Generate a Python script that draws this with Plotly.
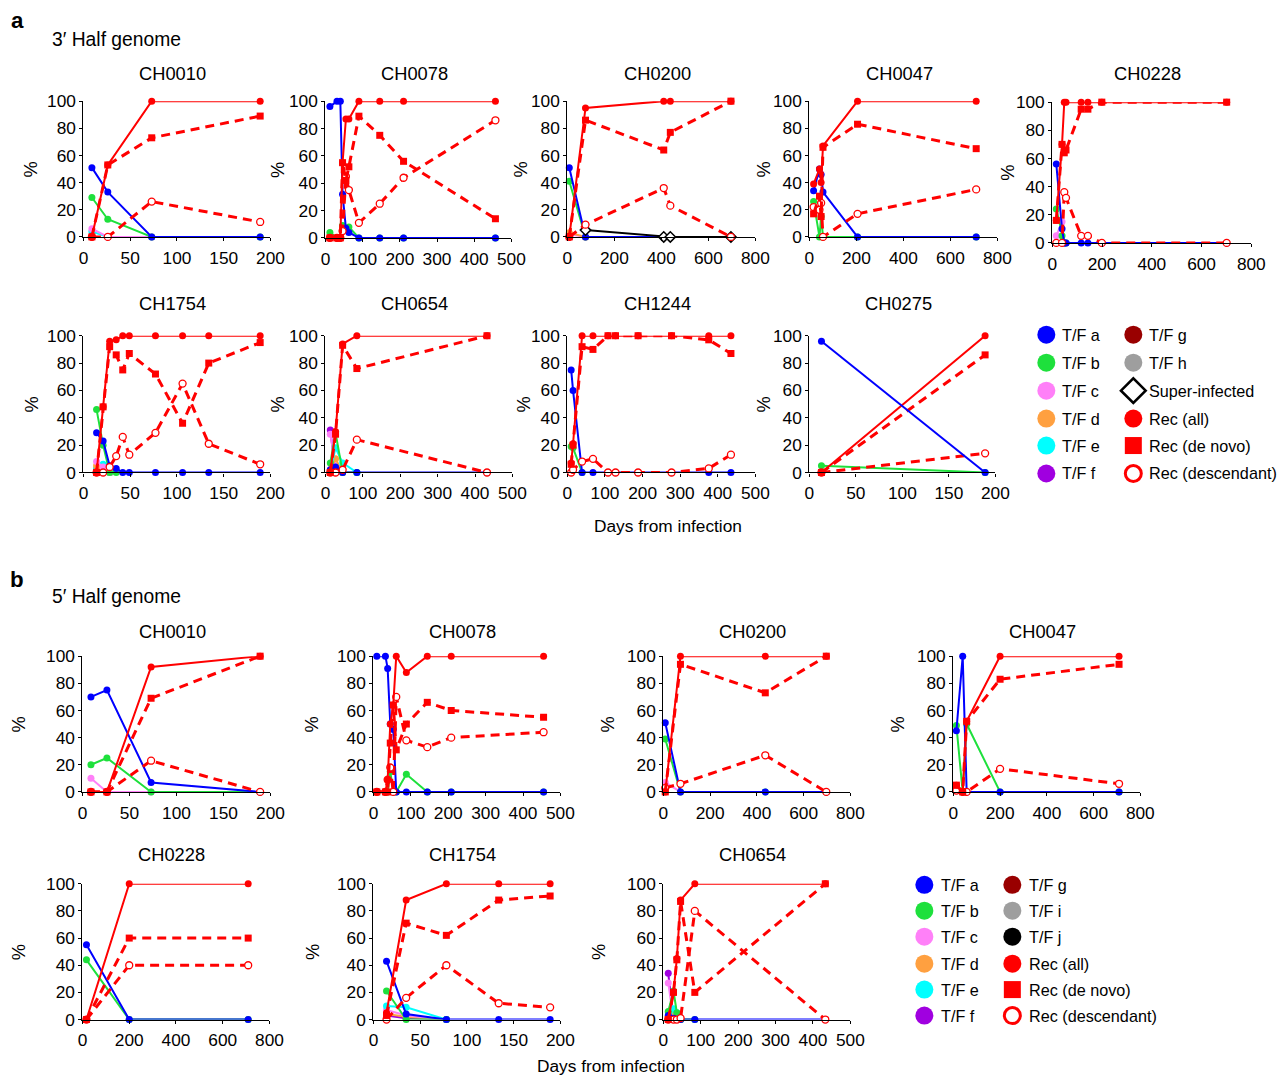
import plotly.graph_objects as go

W, H = 1296, 1086
FONT = "Liberation Sans, Arial, Helvetica, sans-serif"

# page placement of the figure: screen = A * figure + B
AX, BX = 0.9855, 4.5
AY, BY = 0.9833, 7.7
S = 1 / AX

COLORS = {
    "T/F a": "#0000FF", "T/F b": "#1EE03C", "T/F c": "#FF80F8", "T/F d": "#FFA040",
    "T/F e": "#00FFFF", "T/F f": "#A000E0", "T/F g": "#990000", "T/F h": "#9E9E9E",
    "T/F i": "#9E9E9E", "T/F j": "#000000", "Super-infected": "#000000", "Rec": "#FF0000",
}

# ---------------- 3' half genome ----------------
A_CH0010_DAYS = [9, 26, 73, 189]
A_CH0010 = {
    "T/F e": [4, 0, None, None],
    "T/F c": [6, 0, 0, None],
    "T/F b": [29, 13, 0, 0],
    "T/F a": [51, 33, 0, 0],
    "Rec (descendant)": [0, 0, 26, 11],
    "Rec (de novo)": [0, 53, 73, 89],
    "Rec (all)": [0, 53, 100, 100],
}

A_CH0078_DAYS = [12, 31, 40, 46, 55, 63, 90, 146, 210, 457]
A_CH0078 = {
    "T/F b": [4, 0, 0, 9, 6, 8, 0, 0, 0, 0],
    "T/F a": [96, 100, 100, 32, 7, 4, 0, 0, 0, 0],
    "Rec (descendant)": [0, 0, 0, 5, 45, 35, 11, 25, 44, 86],
    "Rec (de novo)": [0, 0, 0, 55, 42, 52, 89, 75, 56, 14],
    "Rec (all)": [0, 0, 0, 55, 87, 87, 100, 100, 100, 100],
}

A_CH0200_DAYS = [8, 77, 410, 438, 696]
A_CH0200 = {
    "T/F c": [2, 0, None, None, None],
    "T/F d": [3, 0, None, None, None],
    "T/F b": [41, 0, 0, 0, 0],
    "T/F a": [51, 0, 0, 0, 0],
    "Super-infected": [None, 5, 0, 0, 0],
    "Rec (descendant)": [0, 9, 36, 23, 0],
    "Rec (de novo)": [0, 86, 64, 77, 100],
    "Rec (all)": [0, 95, 100, 100, 100],
}

A_CH0047_DAYS = [18, 43, 50, 58, 205, 710]
A_CH0047 = {
    "T/F b": [26, 0, 15, 0, 0, 0],
    "T/F a": [34, 50, 46, 33, 0, 0],
    "Rec (descendant)": [22, 20, 25, 0, 17, 35],
    "Rec (de novo)": [17, 30, 15, 66, 83, 65],
    "Rec (all)": [39, 50, 40, 67, 100, 100],
}

A_CH0228_DAYS = [16, 39, 48, 55, 116, 143, 199, 701]
A_CH0228 = {
    "T/F c": [5, 15, 0, 0, None, None, None, None],
    "T/F b": [24, 5, 0, 0, None, None, None, None],
    "T/F a": [56, 10, 0, 0, 0, 0, 0, 0],
    "Rec (descendant)": [0, 0, 36, 32, 5, 5, 0, 0],
    "Rec (de novo)": [16, 70, 64, 66, 95, 95, 100, 100],
    "Rec (all)": [16, 70, 100, 100, 100, 100, 100, 100],
}

A_CH1754_DAYS = [14, 21, 28, 35, 42, 49, 77, 106, 134, 189]
A_CH1754 = {
    "T/F f": [2, 0, 0, None, None, None, None, None, None, None],
    "T/F e": [3, 6, 0, None, None, None, None, None, None, None],
    "T/F d": [5, 1, 0, None, None, None, None, None, None, None],
    "T/F c": [8, 4, 0, None, None, None, None, None, None, None],
    "T/F b": [46, 20, 0, 0, None, None, None, None, None, None],
    "T/F a": [29, 23, 5, 3, 0, 0, 0, 0, 0, 0],
    "Rec (descendant)": [0, 0, 4, 12, 26, 13, 29, 65, 21, 6],
    "Rec (de novo)": [0, 48, 92, 86, 75, 87, 72, 36, 80, 95],
    "Rec (all)": [0, 48, 96, 97, 100, 100, 100, 100, 100, 100],
}

A_CH0654_DAYS = [13, 27, 46, 84, 432]
A_CH0654 = {
    "T/F f": [31, 0, None, None, None],
    "T/F c": [28, 5, 0, None, None],
    "T/F d": [2, 10, 0, None, None],
    "T/F e": [1, 18, 7, 0, None],
    "T/F b": [7, 29, 0, 0, None],
    "T/F a": [2, 4, 0, 0, 0],
    "Rec (descendant)": [0, 0, 2, 24, 0],
    "Rec (de novo)": [0, 28, 93, 76, 100],
    "Rec (all)": [0, 30, 94, 100, 100],
}

A_CH1244_DAYS = [10, 15, 39, 68, 108, 128, 188, 277, 376, 435]
A_CH1244 = {
    "T/F b": [19, 18, 0, None, None, None, None, None, None, None],
    "T/F a": [75, 60, 0, 0, 0, 0, 0, 0, 0, 0],
    "Rec (descendant)": [0, 2, 8, 10, 0, 0, 0, 0, 3, 13],
    "Rec (de novo)": [6, 20, 92, 90, 100, 100, 100, 100, 97, 87],
    "Rec (all)": [7, 21, 100, 100, 100, 100, 100, 100, 100, 100],
}

A_CH0275_DAYS = [13, 189]
A_CH0275 = {
    "T/F b": [5, 0],
    "Rec (descendant)": [0, 14],
    "Rec (de novo)": [0, 86],
    "Rec (all)": [0, 100],
    "T/F a": [96, 0],
}

# ---------------- 5' half genome ----------------
B_CH0010_DAYS = [9, 26, 73, 189]
B_CH0010 = {
    "T/F c": [10, 0, 0, None],
    "T/F b": [20, 25, 0, 0],
    "T/F a": [70, 75, 7, 0],
    "Rec (descendant)": [0, 0, 23, 0],
    "Rec (de novo)": [0, 0, 69, 100],
    "Rec (all)": [0, 0, 92, 100],
}

B_CH0078_DAYS = [9, 32, 38, 45, 53, 61, 88, 144, 208, 455]
B_CH0078 = {
    "T/F b": [0, 0, 0, 15, 0, 0, 13, 0, 0, 0],
    "T/F a": [100, 100, 91, 50, 46, 0, 0, 0, 0, 0],
    "Rec (descendant)": [0, 0, 9, 18, 0, 70, 38, 33, 40, 44],
    "Rec (de novo)": [0, 0, 0, 36, 64, 31, 50, 66, 60, 55],
    "Rec (all)": [0, 0, 9, 50, 64, 100, 88, 100, 100, 100],
}

B_CH0200_DAYS = [8, 73, 436, 697]
B_CH0200 = {
    "T/F c": [7, 0, None, None],
    "T/F b": [39, 0, 0, 0],
    "T/F a": [51, 0, 0, 0],
    "Rec (descendant)": [3, 6, 27, 0],
    "Rec (de novo)": [0, 94, 73, 100],
    "Rec (all)": [0, 100, 100, 100],
}

B_CH0047_DAYS = [13, 40, 57, 200, 709]
B_CH0047 = {
    "T/F d": [2, 0, None, None, None],
    "T/F b": [49, 0, 50, 0, 0],
    "T/F a": [45, 100, 0, 0, 0],
    "Rec (descendant)": [1, 0, 0, 17, 6],
    "Rec (de novo)": [5, 0, 52, 83, 94],
    "Rec (all)": [5, 0, 52, 100, 100],
}

B_CH0228_DAYS = [17, 200, 709]
B_CH0228 = {
    "T/F b": [44, 0, 0],
    "T/F a": [55, 0, 0],
    "Rec (descendant)": [0, 40, 40],
    "Rec (de novo)": [0, 60, 60],
    "Rec (all)": [0, 100, 100],
}

B_CH1754_DAYS = [14, 35, 78, 134, 189]
B_CH1754 = {
    "T/F f": [3, 1, 0, None, None],
    "T/F d": [4, 2, 0, None, None],
    "T/F c": [7, 3, 0, None, None],
    "T/F e": [10, 9, 0, None, None],
    "T/F b": [21, 0, 0, None, None],
    "T/F a": [43, 4, 0, 0, 0],
    "Rec (descendant)": [0, 16, 40, 12, 9],
    "Rec (de novo)": [3, 71, 62, 88, 91],
    "Rec (all)": [5, 88, 100, 100, 100],
}

B_CH0654_DAYS = [13, 27, 36, 46, 84, 433]
B_CH0654 = {
    "T/F f": [34, 0, None, None, None, None],
    "T/F c": [27, 0, None, None, None, None],
    "T/F d": [2, 5, 0, None, None, None],
    "T/F e": [0, 8, 5, 0, None, None],
    "T/F b": [6, 21, 5, 0, 0, None],
    "T/F a": [3, 1, 0, 0, 0, 0],
    "Rec (descendant)": [0, 0, 0, 1, 80, 0],
    "Rec (de novo)": [0, 20, 44, 87, 20, 100],
    "Rec (all)": [0, 20, 45, 88, 100, 100],
}

LEGEND_A = [["T/F a", "T/F b", "T/F c", "T/F d", "T/F e", "T/F f"],
            ["T/F g", "T/F h", "Super-infected", "Rec (all)", "Rec (de novo)", "Rec (descendant)"]]
LEGEND_B = [["T/F a", "T/F b", "T/F c", "T/F d", "T/F e", "T/F f"],
            ["T/F g", "T/F i", "T/F j", "Rec (all)", "Rec (de novo)", "Rec (descendant)"]]

# panel layout in screen pixels: title, days, series, left, right, top(100%), bottom(0%), x max, tick step, % label x, title y
PANELS = [
    ("CH0010", A_CH0010_DAYS, A_CH0010, 83, 270, 99, 235, 200, 50, 30, 71),
    ("CH0078", A_CH0078_DAYS, A_CH0078, 325, 511, 99, 236, 500, 100, 277, 71),
    ("CH0200", A_CH0200_DAYS, A_CH0200, 567, 755, 99, 235, 800, 200, 520, 71),
    ("CH0047", A_CH0047_DAYS, A_CH0047, 809, 997, 99, 235, 800, 200, 763, 71),
    ("CH0228", A_CH0228_DAYS, A_CH0228, 1052, 1251, 100, 241, 800, 200, 1007, 71),
    ("CH1754", A_CH1754_DAYS, A_CH1754, 83, 270, 334, 471, 200, 50, 31, 302),
    ("CH0654", A_CH0654_DAYS, A_CH0654, 325, 512, 334, 471, 500, 100, 277, 302),
    ("CH1244", A_CH1244_DAYS, A_CH1244, 567, 755, 334, 471, 500, 100, 523, 302),
    ("CH0275", A_CH0275_DAYS, A_CH0275, 809, 995, 334, 471, 200, 50, 763, 302),
    ("CH0010", B_CH0010_DAYS, B_CH0010, 82, 270, 655, 791, 200, 50, 18, 630),
    ("CH0078", B_CH0078_DAYS, B_CH0078, 373, 560, 655, 791, 500, 100, 311, 630),
    ("CH0200", B_CH0200_DAYS, B_CH0200, 663, 850, 655, 791, 800, 200, 607, 630),
    ("CH0047", B_CH0047_DAYS, B_CH0047, 953, 1140, 655, 791, 800, 200, 897, 630),
    ("CH0228", B_CH0228_DAYS, B_CH0228, 82, 269, 883, 1019, 800, 200, 18, 854),
    ("CH1754", B_CH1754_DAYS, B_CH1754, 373, 560, 883, 1019, 200, 50, 312, 854),
    ("CH0654", B_CH0654_DAYS, B_CH0654, 663, 850, 883, 1019, 500, 100, 598, 854),
]


def fx(x):
    return (x - BX) / AX


def fy(y):
    return (y - BY) / AY


def px(x):
    return fx(x) / W


def py(y):
    return 1 - fy(y) / H


def fs(size):
    return round(size * S, 1)


def series_style(name):
    if name == "Rec (all)":
        return dict(line=dict(color=COLORS["Rec"], width=2),
                    marker=dict(symbol="circle", size=7, color=COLORS["Rec"]))
    if name == "Rec (de novo)":
        return dict(line=dict(color=COLORS["Rec"], width=3, dash="9px,6px"),
                    marker=dict(symbol="square", size=7, color=COLORS["Rec"]))
    if name == "Rec (descendant)":
        return dict(line=dict(color=COLORS["Rec"], width=3, dash="9px,6px"),
                    marker=dict(symbol="circle", size=7, color="white",
                                line=dict(color=COLORS["Rec"], width=1.3)))
    if name == "Super-infected":
        return dict(line=dict(color="black", width=2),
                    marker=dict(symbol="diamond", size=8, color="white",
                                line=dict(color="black", width=1.5)))
    c = COLORS[name]
    return dict(line=dict(color=c, width=2), marker=dict(symbol="circle", size=7, color=c))


fig = go.Figure()
layout = dict(
    width=W, height=H, margin=dict(l=0, r=0, t=0, b=0),
    paper_bgcolor="white", plot_bgcolor="rgba(0,0,0,0)",
    showlegend=False, font=dict(family=FONT, size=fs(17), color="black"),
)
annotations = []


def ann(text, x, y, size, **kw):
    d = dict(text=text, x=px(x), y=py(y), xref="paper", yref="paper", showarrow=False,
             xanchor="center", yanchor="middle",
             font=dict(family=FONT, size=fs(size), color="black"))
    d.update(kw)
    annotations.append(d)


for i, (title, days, series, x0, x1, yt, yb, xmax, step, pct_x, title_y) in enumerate(PANELS, start=1):
    xa, ya = f"x{i}", f"y{i}"
    for name, vals in series.items():
        st = series_style(name)
        fig.add_trace(go.Scatter(x=days, y=vals, mode="lines+markers", xaxis=xa, yaxis=ya,
                                 cliponaxis=False, connectgaps=False, hoverinfo="skip", **st))
    layout[f"xaxis{i}"] = dict(
        domain=[px(x0), px(x1)], anchor=ya, range=[0, xmax],
        tickvals=list(range(0, xmax + 1, step)), showgrid=False, zeroline=False,
        showline=True, linecolor="black", linewidth=1.3, ticks="outside", ticklen=3,
        tickcolor="black", tickfont=dict(size=fs(17)), ticklabelstandoff=2, fixedrange=True,
    )
    layout[f"yaxis{i}"] = dict(
        domain=[py(yb), py(yt)], anchor=xa, range=[0, 100],
        tickvals=[0, 20, 40, 60, 80, 100], showgrid=False, zeroline=False,
        showline=True, linecolor="black", linewidth=1.3, ticks="outside", ticklen=3,
        tickcolor="black", tickfont=dict(size=fs(17)), ticklabelstandoff=0, fixedrange=True,
    )
    ann(title, (x0 + x1) / 2 - 4, title_y, 18)
    ann("%", pct_x, (yt + yb) / 2, 18, textangle=-90)

# legend drawn on a full-figure pixel grid
LEG = len(PANELS) + 1
layout[f"xaxis{LEG}"] = dict(domain=[0, 1], range=[0, W], visible=False, fixedrange=True)
layout[f"yaxis{LEG}"] = dict(domain=[0, 1], range=[H, 0], visible=False, fixedrange=True)


def legend_marker(name):
    if name == "Rec (all)":
        return dict(symbol="circle", size=18, color=COLORS["Rec"])
    if name == "Rec (de novo)":
        return dict(symbol="square", size=17, color=COLORS["Rec"])
    if name == "Rec (descendant)":
        return dict(symbol="circle", size=16, color="white", line=dict(color=COLORS["Rec"], width=3))
    if name == "Super-infected":
        return dict(symbol="diamond", size=19, color="white", line=dict(color="black", width=2.6))
    return dict(symbol="circle", size=18, color=COLORS[name])


def draw_legend(cols, col_x, rows_y, text_dx):
    for names, cx in zip(cols, col_x):
        for name, ry in zip(names, rows_y):
            fig.add_trace(go.Scatter(x=[fx(cx)], y=[fy(ry)], mode="markers", marker=legend_marker(name),
                                     xaxis=f"x{LEG}", yaxis=f"y{LEG}", cliponaxis=False,
                                     hoverinfo="skip"))
            ann(name, cx + text_dx, ry, 16, xanchor="left")


draw_legend(LEGEND_A, [1046, 1133], [333, 361, 389, 417, 444, 472], 14)
draw_legend(LEGEND_B, [924, 1012], [884, 910, 936, 963, 989, 1015], 15)

# panel headings and shared axis titles
ann("<b>a</b>", 17, 18, 22)
ann("<b>b</b>", 17, 578, 22)
ann("3\u2032 Half genome", 50, 37, 19, xanchor="left")
ann("5\u2032 Half genome", 50, 595, 19, xanchor="left")
ann("Days from infection", 668, 525, 17)
ann("Days from infection", 611, 1066, 17)

layout["annotations"] = annotations
fig.update_layout(**layout)
fig.write_html("out.html")
